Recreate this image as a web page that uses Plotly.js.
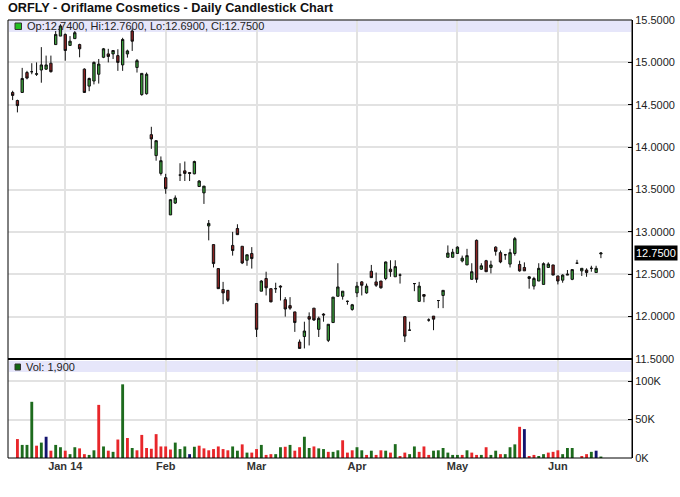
<!DOCTYPE html>
<html><head><meta charset="utf-8">
<script src="https://cdn.plot.ly/plotly-3.0.1.min.js"></script>
<style>html,body{margin:0;padding:0;background:#fff}#chart{width:680px;height:497px}</style>
</head><body><div id="chart"></div>
<script>
// ---- data ----
const firstDay = '2013-12-16';
const lastDay = '2014-06-13';
const holidays = ['2013-12-25','2014-01-01','2014-01-20','2014-02-17','2014-04-18','2014-05-26'];

const opens = [14.645,14.55,14.645,14.88,14.89,14.86,14.91,14.92,14.99,15.21,15.31,
15.33,15.20,15.28,15.21,14.92,14.72,14.78,14.86,15.06,15.10,15.10,15.08,14.97,15.10,15.37,14.94,14.62,14.63,14.147,13.90,13.69,
13.64,13.20,13.34,13.67,13.72,13.70,13.685,13.535,13.46,13.07,12.85,12.567,12.32,12.31,12.84,13.04,12.83,12.665,12.745,
12.155,12.30,12.45,12.33,12.33,12.36,12.20,12.13,12.056,11.70,11.765,12.0,12.10,11.85,12.03,11.72,11.93,12.24,12.24,12.18,12.085,
12.28,12.41,12.28,12.535,12.41,12.42,12.45,12.56,12.47,12.49,12.0,11.84,12.39,12.18,12.26,11.96,12.006,12.19,12.25,
12.70,12.70,12.745,12.657,12.61,12.44,12.9,12.56,12.66,12.58,12.82,12.755,12.73,12.62,12.745,12.615,12.58,12.45,12.36,12.42,12.38,
12.58,12.61,12.48,12.43,12.49,12.44,12.63,12.54,12.55,12.57,12.52,12.74];
const highs = [14.665,14.56,14.935,14.90,14.99,15.00,15.18,15.08,15.08,15.37,15.45,
15.34,15.31,15.37,15.22,14.93,14.82,15.01,15.04,15.17,15.16,15.145,15.155,15.29,15.15,15.40,15.04,14.87,14.88,14.24,14.08,13.89,
13.685,13.385,13.43,13.81,13.83,13.70,13.84,13.61,13.54,13.14,12.85,12.567,12.41,12.31,13.0,13.09,12.83,12.73,12.82,
12.155,12.43,12.53,12.33,12.40,12.37,12.23,12.23,12.056,11.73,11.94,12.05,12.10,12.0,12.04,11.91,12.23,12.63,12.30,12.19,12.15,
12.41,12.42,12.39,12.61,12.52,12.42,12.65,12.665,12.665,12.51,12.0,11.94,12.395,12.41,12.26,11.98,12.006,12.19,12.31,
12.84,12.80,12.83,12.72,12.80,12.63,12.91,12.63,12.67,12.66,12.83,12.78,12.74,12.80,12.94,12.66,12.64,12.48,12.47,12.63,12.64,
12.64,12.61,12.48,12.50,12.55,12.56,12.67,12.57,12.57,12.60,12.60,12.76];
const lows = [14.555,14.41,14.64,14.80,14.86,14.84,14.76,14.91,14.88,15.21,15.31,
15.02,15.20,15.28,15.06,14.64,14.66,14.74,14.75,15.05,15.0,15.04,14.9,14.9,15.056,15.135,14.88,14.606,14.62,13.98,13.84,13.665,
13.45,13.20,13.33,13.60,13.60,13.60,13.68,13.53,13.33,12.9,12.58,12.33,12.147,12.174,12.72,12.967,12.62,12.6,12.567,
11.76,12.30,12.25,12.17,12.28,12.19,12.0,12.08,11.82,11.625,11.625,11.66,11.95,11.76,11.94,11.70,11.93,12.24,12.2,12.14,12.07,
12.23,12.25,12.27,12.46,12.35,12.33,12.43,12.47,12.47,12.39,11.70,11.84,12.30,12.18,12.17,11.94,11.84,12.1,12.1,
12.70,12.70,12.74,12.64,12.61,12.44,12.4,12.55,12.53,12.51,12.72,12.63,12.67,12.58,12.72,12.53,12.54,12.33,12.32,12.42,12.38,
12.58,12.49,12.38,12.40,12.49,12.43,12.63,12.48,12.47,12.53,12.52,12.69];
const closes = [14.61,14.49,14.81,14.815,14.89,14.865,14.97,14.97,14.89,15.33,15.43,
15.14,15.25,15.35,15.16,14.645,14.81,15.0,14.98,15.16,15.07,15.14,15.0,15.27,15.135,15.25,15.02,14.87,14.86,14.097,14.076,13.84,
13.51,13.38,13.40,13.67,13.69,13.69,13.83,13.60,13.54,13.10,12.626,12.33,12.28,12.194,12.78,12.967,12.633,12.73,12.685,
11.85,12.42,12.34,12.174,12.33,12.35,12.09,12.10,11.93,11.625,11.83,11.97,11.96,11.98,12.02,11.91,12.23,12.35,12.30,12.18,12.14,
12.36,12.37,12.36,12.46,12.37,12.34,12.645,12.53,12.59,12.49,11.77,11.84,12.39,12.36,12.24,11.96,11.97,12.19,12.31,
12.75,12.76,12.82,12.69,12.72,12.53,12.44,12.60,12.53,12.61,12.77,12.645,12.73,12.755,12.92,12.54,12.54,12.47,12.45,12.57,12.625,
12.62,12.49,12.42,12.49,12.50,12.555,12.63,12.57,12.52,12.57,12.57,12.75];
const volumes = [null,24600,17000,17000,73000,16000,20000,27600,9500,17000,14000,
9500,5000,14000,12500,5000,4000,10000,69000,15000,9500,8000,24000,95700,26000,13000,10000,30000,13000,12000,31000,15000,
15000,11000,20000,11600,15000,5000,14600,16000,12500,10000,11600,15000,11600,10000,15000,9500,17700,7000,7000,
11600,17000,4000,5000,5000,14000,14600,17000,9500,14000,27600,13000,15000,12500,11600,8000,8000,10000,23000,7000,10000,
14000,10000,4000,9500,4000,10000,9500,7000,18000,2600,7000,5000,15000,8000,15000,4000,9500,10000,13000,
7000,4000,4000,4000,10000,7000,4000,4000,14000,4000,9500,5000,5000,14000,17700,40500,37500,2600,4000,2600,5000,
7000,8000,10000,5000,13000,13000,null,2600,5000,8000,9500,1900];

const monthTicks = ['2014-01-02','2014-02-03','2014-03-03','2014-04-01','2014-05-01','2014-06-02'];
const monthLabels = ['Jan 14','Feb','Mar','Apr','May','Jun'];
const priceTicks = [11.5,12,12.5,13,13.5,14,14.5,15,15.5];
const volTicks = [0,50000,100000];
const volTickText = ['0K','50K','100K'];

// ---- build ----
function tradingDays(a, b, hol) {
  const out = [];
  let d = new Date(a + 'T00:00:00Z');
  const e = new Date(b + 'T00:00:00Z');
  while (d <= e) {
    const s = d.toISOString().slice(0, 10);
    const w = d.getUTCDay();
    if (w !== 0 && w !== 6 && !hol.includes(s)) out.push(s);
    d = new Date(d.getTime() + 86400000);
  }
  return out;
}
const dates = tradingDays(firstDay, lastDay, holidays);

const UP = '#1d6b1d', DOWN = '#e8262a', FLAT = '#14146e';
const volColors = volumes.map((v, i) => {
  if (i === 0) return UP;
  const c = closes[i], p = closes[i - 1];
  return c > p ? UP : (c < p ? DOWN : FLAT);
});

const n = closes.length - 1;
const f4 = v => v.toFixed(4);
const legendText = `Op:${f4(opens[n])}, Hi:${f4(highs[n])}, Lo:${f4(lows[n])}, Cl:${f4(closes[n])}`;
const volText = `Vol: ${volumes[n].toLocaleString('en-US')}`;

const FONT = 'Liberation Sans, Arial, sans-serif';
const PLOT_TOP = 20, PLOT_BOT = 458, PH = PLOT_BOT - PLOT_TOP;
const py = p => (PLOT_BOT - p) / PH;           // pixel row -> paper y
const PX0 = 8, PW = 624;
const px = p => (p - PX0) / PW;                 // pixel col -> paper x
const split = py(359);

const traces = [
  {
    type: 'candlestick', x: dates, open: opens, high: highs, low: lows, close: closes,
    xaxis: 'x', yaxis: 'y', hoverinfo: 'skip', whiskerwidth: 0,
    increasing: {line: {color: '#111', width: 1}, fillcolor: '#3a9d3a'},
    decreasing: {line: {color: '#111', width: 1}, fillcolor: '#8c2222'},
    showlegend: false
  },
  {
    type: 'bar', x: dates, y: volumes, xaxis: 'x', yaxis: 'y2',
    marker: {color: volColors, line: {width: 0}}, hoverinfo: 'skip', showlegend: false
  }
];

const axisFont = {family: FONT, size: 11, color: '#222'};
const layout = {
  width: 680, height: 497,
  margin: {l: PX0, r: 680 - PX0 - PW, t: PLOT_TOP, b: 497 - PLOT_BOT},
  paper_bgcolor: '#fff', plot_bgcolor: 'rgba(0,0,0,0)',
  bargap: 0.4,
  title: {text: 'ORFLY - Oriflame Cosmetics - Daily Candlestick Chart', x: 8 / 680, xanchor: 'left',
          y: 1 - 8 / 497, yanchor: 'middle', xref: 'container', yref: 'container',
          font: {family: FONT, size: 12.7, weight: 'bold', color: '#111'}},
  xaxis: {
    type: 'category', anchor: 'y2', range: [-0.97, 129.5],
    tickvals: monthTicks, ticktext: monthLabels, ticks: '', showline: false,
    showgrid: true, gridcolor: '#e2e2e2', gridwidth: 2, zeroline: false,
    tickfont: {family: FONT, size: 11, weight: 'bold', color: '#333'},
    rangeslider: {visible: false}, fixedrange: true
  },
  yaxis: {
    domain: [split, 1], range: [11.5, 15.5], side: 'right', anchor: 'x',
    tickvals: priceTicks, tickformat: '.4f', ticks: 'inside', ticklen: 4, tickcolor: '#000',
    showline: true, linecolor: '#000', linewidth: 1,
    showgrid: true, gridcolor: '#e2e2e2', gridwidth: 2, zeroline: false,
    tickfont: axisFont, fixedrange: true
  },
  yaxis2: {
    domain: [0, split], range: [0, 128600], side: 'right', anchor: 'x',
    tickvals: volTicks, ticktext: volTickText, ticks: 'inside', ticklen: 4, tickcolor: '#000',
    showline: true, linecolor: '#000', linewidth: 1,
    showgrid: true, gridcolor: '#e2e2e2', gridwidth: 2, zeroline: false,
    tickfont: axisFont, fixedrange: true
  },
  shapes: [
    {type: 'rect', xref: 'paper', yref: 'paper', x0: px(9), x1: px(631), y0: py(32), y1: py(20.5),
     fillcolor: '#e6e6fa', line: {width: 0}, layer: 'below'},
    {type: 'rect', xref: 'paper', yref: 'paper', x0: px(9), x1: px(631), y0: py(372), y1: py(361),
     fillcolor: '#e6e6fa', line: {width: 0}, layer: 'below'},
    {type: 'rect', xref: 'paper', yref: 'paper', x0: px(15), x1: px(21.5), y0: py(29.5), y1: py(23),
     fillcolor: '#22c022', line: {color: '#333', width: 1}},
    {type: 'rect', xref: 'paper', yref: 'paper', x0: px(15), x1: px(20.5), y0: py(370), y1: py(364),
     fillcolor: '#136913', line: {color: '#333', width: 1}},
    {type: 'rect', xref: 'paper', yref: 'paper', x0: 0, x1: 1, y0: 0, y1: 1,
     line: {color: '#000', width: 1}},
    {type: 'line', xref: 'paper', yref: 'paper', x0: 0, x1: 1, y0: split, y1: split,
     line: {color: '#000', width: 2}}
  ],
  annotations: [
    {xref: 'paper', yref: 'paper', x: px(25), y: py(26.5), xanchor: 'left', yanchor: 'middle',
     text: legendText, showarrow: false, font: {family: FONT, size: 11, color: '#222'}},
    {xref: 'paper', yref: 'paper', x: px(24), y: py(367), xanchor: 'left', yanchor: 'middle',
     text: volText, showarrow: false, font: {family: FONT, size: 11, color: '#222'}},
    {xref: 'paper', yref: 'y', x: 1, y: closes[n], xanchor: 'left', yanchor: 'middle', xshift: 2,
     text: f4(closes[n]), showarrow: false, bgcolor: '#000', borderpad: 1,
     font: {family: FONT, size: 11, color: '#fff'}}
  ]
};

Plotly.newPlot('chart', traces, layout, {staticPlot: true, displayModeBar: false});
</script>
</body></html>
